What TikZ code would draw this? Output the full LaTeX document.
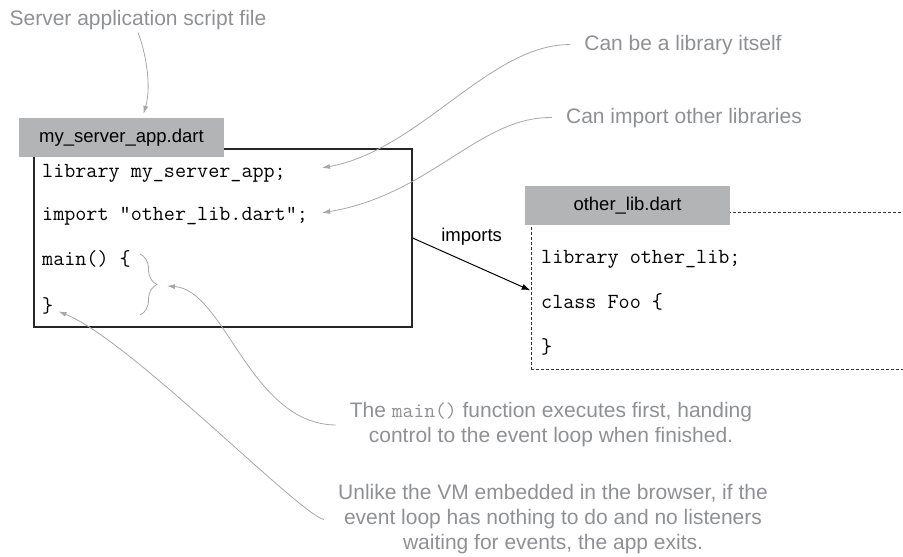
\documentclass[tikz,border=0pt]{standalone}
\usepackage{fontspec}
\setmainfont{Liberation Sans}
\usetikzlibrary{arrows.meta,positioning,calc,decorations.pathreplacing}

\definecolor{notegray}{RGB}{142,144,147}
\definecolor{linegray}{RGB}{165,167,170}
\definecolor{headgray}{RGB}{178,180,181}
\newcommand\notefont{\fontsize{21}{25}\selectfont}
\newcommand\codefont{\ttfamily\fontsize{21.5}{25}\selectfont}
\newcommand\headfont{\fontsize{18.5}{22}\selectfont}

\begin{document}
\begin{tikzpicture}[
  x=1pt,y=-1pt,
  note/.style={text=notegray,font=\notefont,align=center,inner xsep=14pt,inner ysep=3pt},
  codeline/.style={font=\codefont,anchor=base west,inner sep=0pt},
  filehead/.style={fill=headgray,font=\headfont,minimum width=205pt,minimum height=39pt,inner sep=0pt},
  callout/.style={linegray,line width=0.8pt,-{Latex[length=8pt,width=5pt]}},
  imparrow/.style={black,line width=1pt,-{Latex[length=9pt,width=6pt]}}
]
  \useasboundingbox (0,0) rectangle (903,557);

  % server script file
  \node[draw=black!85,line width=1.3pt,minimum width=378pt,minimum height=178pt] (appbox) at (223,238) {};
  \node[filehead] (apphead) at (121.5,137.5) {my\_server\_app.dart};
  \node[codeline] (applib) at (42,177) {library my\_server\_app;};
  \node[codeline] (appimp) at (42,220) {import "other\_lib.dart";};
  \node[codeline] (appmain) at (42,265) {main() \{};
  \node[codeline] (append) at (42,312) {\}};
  \coordinate (bracetop) at (140,254);
  \coordinate (bracebot) at (140,315);
  \coordinate (bracetip) at (167,286);
  \draw[linegray,line width=0.8pt,decorate,decoration={brace,amplitude=17pt,aspect=0.5}] (bracetop) -- (bracebot);

  % imported library
  \node[draw=black!80,dash pattern=on 3pt off 2pt,line width=0.8pt,minimum width=379pt,minimum height=157pt] (libbox) at (720.5,290.5) {};
  \node[filehead] (libhead) at (627.5,205.5) {other\_lib.dart};
  \node[codeline] (liblib) at (541,263) {library other\_lib;};
  \node[codeline] (libclass) at (541,308) {class Foo \{};
  \node[codeline] (libend) at (541,353) {\}};

  \draw[imparrow] (appbox.east) -- node[midway,above=15pt,font=\headfont] (implabel) {imports} (libbox.west);

  % notes
  \node[note,anchor=base] (srvnote) at (138,25) {Server application script file};
  \node[note,anchor=base] (notelib) at (683,50) {Can be a library itself};
  \node[note,anchor=base] (noteimp) at (684,123) {Can import other libraries};
  \node[note] (notemain) at (551,425) {The {\ttfamily main()} function executes first, handing\\control to the event loop when finished.};
  \node[note] (noteexit) at (553,519.5) {Unlike the VM embedded in the browser, if the\\event loop has nothing to do and no listeners\\waiting for events, the app exits.};

  \draw[callout] (srvnote.south) .. controls (145,50) and (152,85) .. ($(apphead.north)+(22,-4)$);
  \draw[callout] (notelib.west) .. controls (490,44) and (420,150) .. ($(applib.east)+(36,-5)$);
  \draw[callout] (noteimp.west) .. controls (480,116) and (430,195) .. ($(appimp.east)+(14,-3)$);
  \draw[callout] (notemain.west) .. controls (250,424) and (225,290) .. (bracetip);
  \draw[callout] (noteexit.west) .. controls (300,515) and (130,340) .. ($(append.east)+(5,6)$);
\end{tikzpicture}
\end{document}
